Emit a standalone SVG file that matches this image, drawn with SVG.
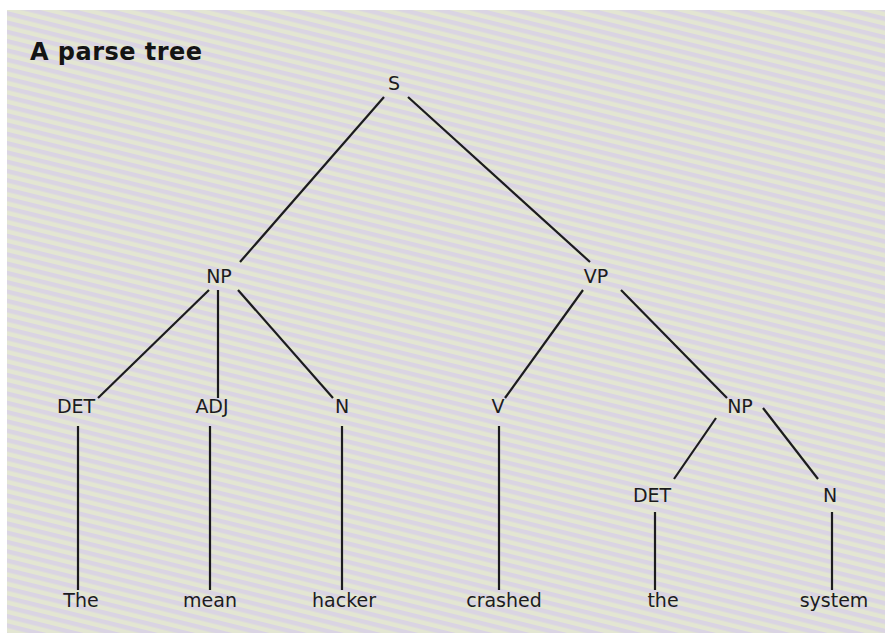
<svg xmlns="http://www.w3.org/2000/svg" width="885" height="633" viewBox="0 0 885 633">
<defs>
<pattern id="bg" width="9" height="9" patternUnits="userSpaceOnUse" patternTransform="rotate(14)">
<rect width="9" height="9" fill="#e3e6d2"/>
<rect width="9" height="4.5" fill="#dad4e3"/>
</pattern>
</defs>
<style>
.lbl{font-family:"DejaVu Sans","Liberation Sans",sans-serif;font-size:19px;fill:#1c1c1e;text-anchor:middle}
.ttl{font-family:"DejaVu Sans","Liberation Sans",sans-serif;font-size:24px;font-weight:bold;fill:#141414}
.edges line{stroke:#1c1c1e;stroke-width:2.2;stroke-linecap:butt}
</style>
<rect width="885" height="633" fill="#ffffff"/>
<rect x="7" y="10" width="878" height="623" fill="url(#bg)"/>
<text class="ttl" x="30" y="60" textLength="172">A parse tree</text>
<g class="edges" id="edges">
<line x1="384" y1="97" x2="240" y2="262"/>
<line x1="408" y1="97" x2="590" y2="262"/>
<line x1="209" y1="290" x2="98" y2="398"/>
<line x1="218" y1="290" x2="218" y2="398"/>
<line x1="238" y1="290" x2="333" y2="398"/>
<line x1="583" y1="290" x2="505" y2="398"/>
<line x1="621" y1="290" x2="727" y2="398"/>
<line x1="716" y1="418" x2="674" y2="479"/>
<line x1="763" y1="408" x2="818" y2="479"/>
<line x1="78" y1="426" x2="78" y2="590"/>
<line x1="210" y1="426" x2="210" y2="590"/>
<line x1="342" y1="426" x2="342" y2="590"/>
<line x1="499" y1="426" x2="499" y2="590"/>
<line x1="655" y1="512" x2="655" y2="590"/>
<line x1="832" y1="512" x2="832" y2="590"/>
</g>
<g id="n-S"><text class="lbl" x="394" y="90">S</text></g>
<g id="n-NP1"><text class="lbl" x="219" y="283">NP</text></g>
<g id="n-VP"><text class="lbl" x="596" y="283">VP</text></g>
<g id="n-DET1"><text class="lbl" x="76" y="413">DET</text></g>
<g id="n-ADJ"><text class="lbl" x="212" y="413">ADJ</text></g>
<g id="n-N1"><text class="lbl" x="342" y="413">N</text></g>
<g id="n-V"><text class="lbl" x="498" y="413">V</text></g>
<g id="n-NP2"><text class="lbl" x="740" y="413">NP</text></g>
<g id="n-DET2"><text class="lbl" x="652" y="502">DET</text></g>
<g id="n-N2"><text class="lbl" x="830" y="502">N</text></g>
<g id="w-The"><text class="lbl" x="81" y="607">The</text></g>
<g id="w-mean"><text class="lbl" x="210" y="607">mean</text></g>
<g id="w-hacker"><text class="lbl" x="344" y="607">hacker</text></g>
<g id="w-crashed"><text class="lbl" x="504" y="607">crashed</text></g>
<g id="w-the"><text class="lbl" x="663" y="607">the</text></g>
<g id="w-system"><text class="lbl" x="834" y="607">system</text></g>
</svg>
